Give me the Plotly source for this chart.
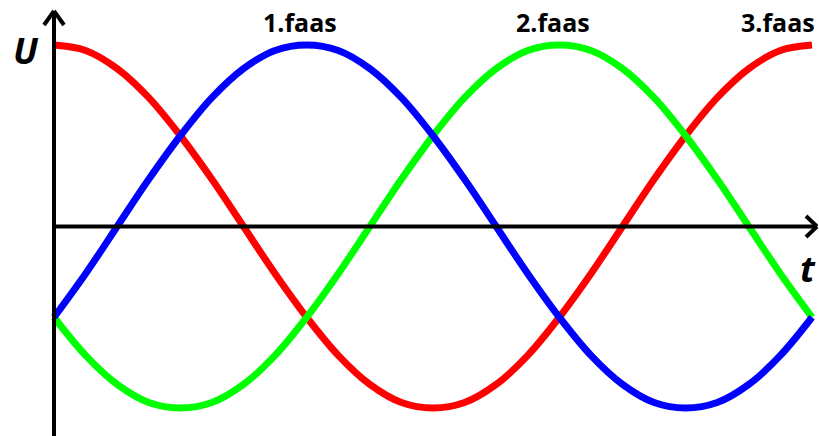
import plotly.graph_objects as go

# Phase angle (degrees) and per-phase voltages
t_deg = [0, 15, 30, 45, 60, 75, 90, 105, 120, 135, 150, 165, 180,
         195, 210, 225, 240, 255, 270, 285, 300, 315, 330, 345, 360]
red_u = [1, 0.97, 0.87, 0.71, 0.5, 0.26, 0, -0.26, -0.5, -0.71, -0.87, -0.97, -1,
         -0.97, -0.87, -0.71, -0.5, -0.26, 0, 0.26, 0.5, 0.71, 0.87, 0.97, 1]
blue_u = [-0.5, -0.26, 0, 0.26, 0.5, 0.71, 0.87, 0.97, 1, 0.97, 0.87, 0.71, 0.5,
          0.26, 0, -0.26, -0.5, -0.71, -0.87, -0.97, -1, -0.97, -0.87, -0.71, -0.5]
green_u = [-0.5, -0.71, -0.87, -0.97, -1, -0.97, -0.87, -0.71, -0.5, -0.26, 0, 0.26, 0.5,
           0.71, 0.87, 0.97, 1, 0.97, 0.87, 0.71, 0.5, 0.26, 0, -0.26, -0.5]

phase_labels = ["1.faas", "2.faas", "3.faas"]
phase_label_x = [117, 237, 344]

W, H = 819, 436
X0_PX, PX_PER_DEG = 54, 758 / 360
Y0_PX, PX_PER_U = 226.5, 181.5

def px_to_x(px):
    return (px - X0_PX) / PX_PER_DEG

def px_to_y(py):
    return (Y0_PX - py) / PX_PER_U

fig = go.Figure()
for vals, col in [(red_u, "#ff0000"), (green_u, "#00ff00"), (blue_u, "#0000ff")]:
    fig.add_trace(go.Scatter(x=t_deg, y=vals, mode="lines",
                             line=dict(color=col, width=7, shape="spline", smoothing=1.0),
                             showlegend=False, hoverinfo="skip"))

# axes with chevron arrowheads
axis_line = dict(color="black", width=4)
shapes = [
    dict(type="line", x0=0, x1=0, y0=px_to_y(440), y1=px_to_y(11), line=axis_line),
    dict(type="line", x0=px_to_x(44), x1=0, y0=px_to_y(25), y1=px_to_y(11), line=axis_line),
    dict(type="line", x0=px_to_x(64), x1=0, y0=px_to_y(25), y1=px_to_y(11), line=axis_line),
    dict(type="line", x0=0, x1=px_to_x(817), y0=0, y1=0, line=axis_line),
    dict(type="line", x0=px_to_x(806), x1=px_to_x(817), y0=px_to_y(216), y1=0, line=axis_line),
    dict(type="line", x0=px_to_x(806), x1=px_to_x(817), y0=px_to_y(237), y1=0, line=axis_line),
]

annotations = []
for lab, lx in zip(phase_labels, phase_label_x):
    annotations.append(dict(x=lx, y=px_to_y(22), text="<b>" + lab + "</b>", showarrow=False,
                            xanchor="center", yanchor="middle",
                            font=dict(family="Open Sans", size=25, color="black")))
annotations.append(dict(x=px_to_x(26), y=px_to_y(50), text="<b><i>U</i></b>", showarrow=False,
                        xanchor="center", yanchor="middle",
                        font=dict(family="Open Sans", size=36, color="black")))
annotations.append(dict(x=px_to_x(818), y=px_to_y(268), text="<b><i>t</i></b>", showarrow=False,
                        xanchor="right", yanchor="middle",
                        font=dict(family="Open Sans", size=36, color="black")))

fig.update_layout(
    width=W, height=H,
    margin=dict(l=0, r=0, t=0, b=0),
    paper_bgcolor="white", plot_bgcolor="white",
    xaxis=dict(range=[px_to_x(0), px_to_x(W)], visible=False, fixedrange=True),
    yaxis=dict(range=[px_to_y(H), px_to_y(0)], visible=False, fixedrange=True),
    shapes=shapes, annotations=annotations,
)

fig.write_html("out.html", config=dict(displayModeBar=False),
               post_script="document.body.style.margin='0';document.body.style.overflow='hidden';")
